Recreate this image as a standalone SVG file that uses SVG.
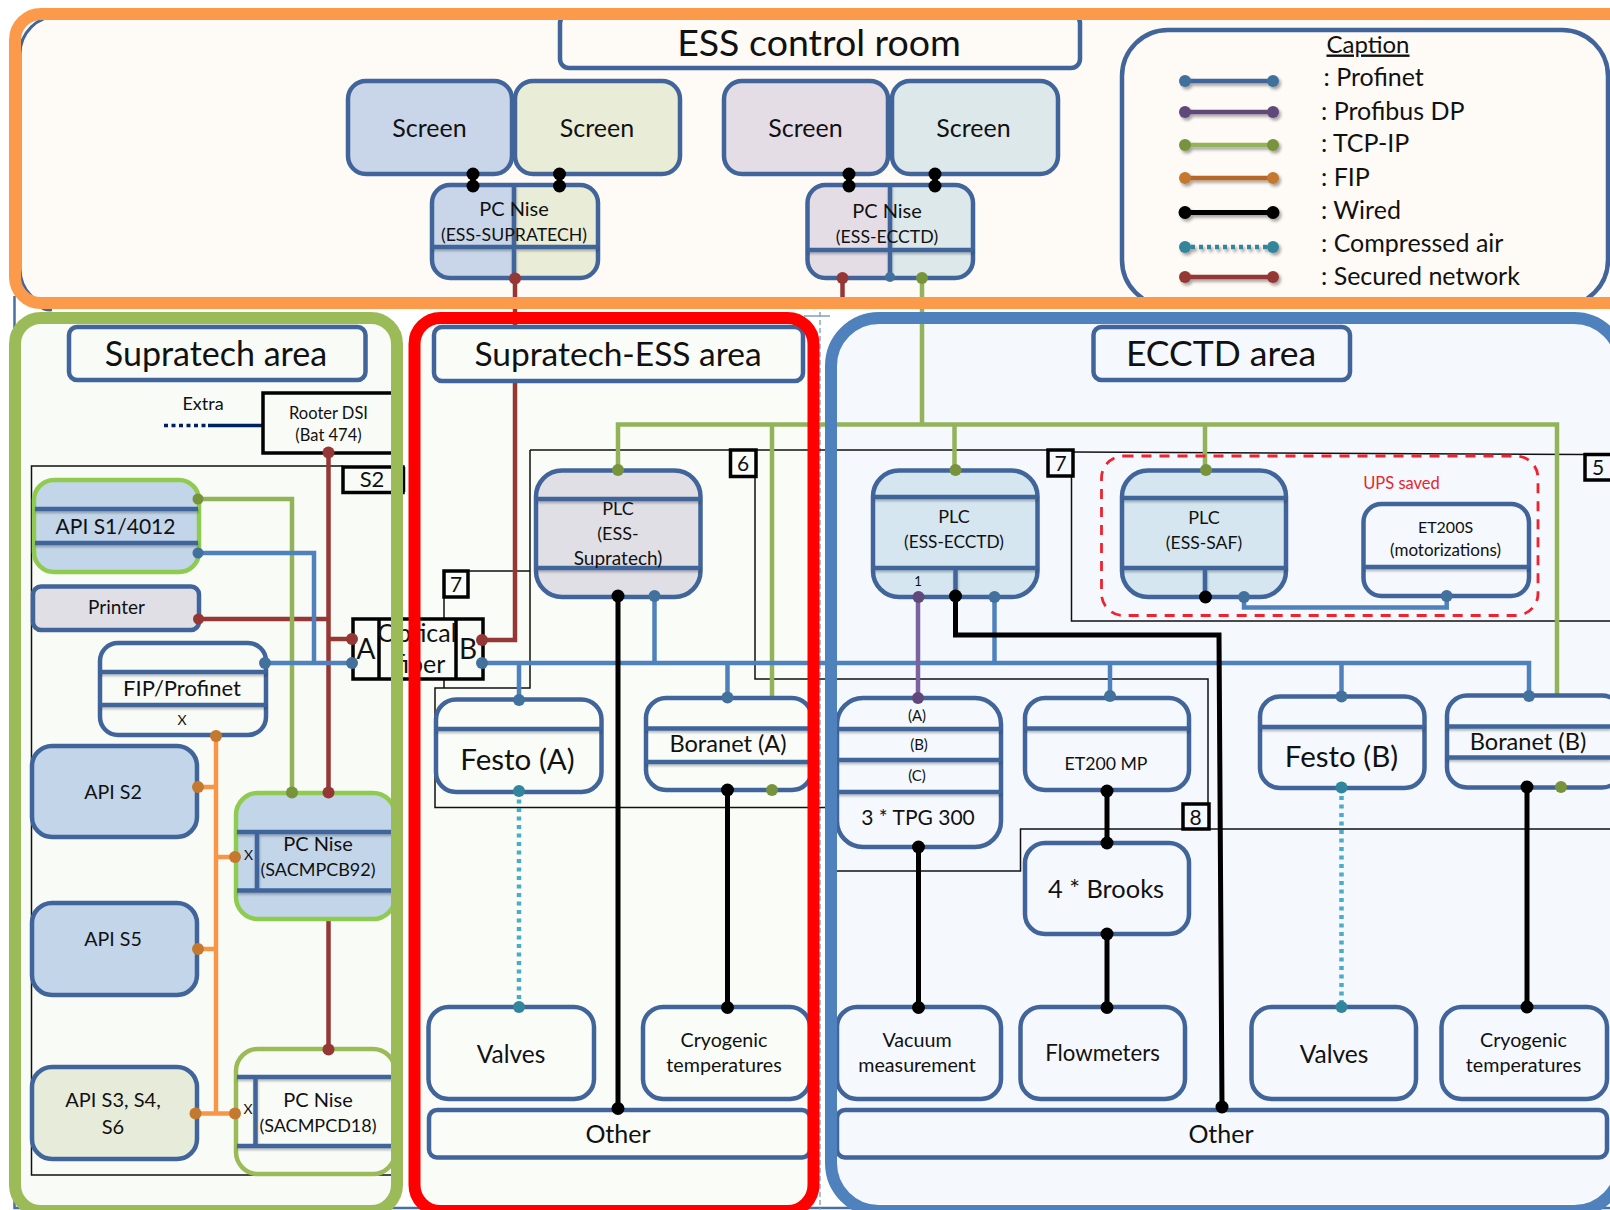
<svg xmlns="http://www.w3.org/2000/svg" width="1610" height="1210" viewBox="0 0 1610 1210">
<style>
text{font-family:Lato,"Liberation Sans",sans-serif;fill:#111;text-anchor:middle}
.n{fill:none;stroke:#41659a;stroke-width:4.5}
.bar{fill:none;stroke:#41659a;stroke-width:4.5;filter:url(#bs)}
.gb{stroke:#8fcb50;stroke-width:4.5}
.blk{fill:none;stroke:#000;stroke-width:3.5}
.thin{fill:none;stroke:#111;stroke-width:1.5}
.c{fill:none;stroke-width:4.5}
.pn{stroke:#4f81bd}.pb{stroke:#7c63a0}.tc{stroke:#92b35a}.fp{stroke:#f79646}.wd{stroke:#000;stroke-width:5}.ar{stroke:#4bacc6;stroke-dasharray:4 4.5}.sc{stroke:#953735}
.d-pn{fill:#41719c}.d-pb{fill:#5f497a}.d-tc{fill:#77933c}.d-fp{fill:#c5792e}.d-wd{fill:#000}.d-ar{fill:#31859c}.d-sc{fill:#953735}
circle,ellipse{stroke:none}
.f{fill:none;stroke-width:12}
</style>
<defs>
<filter id="sh" x="-20%" y="-200%" width="140%" height="500%"><feDropShadow dx="2" dy="2.5" stdDeviation="1.6" flood-color="#000" flood-opacity=".35"/></filter>
<filter id="bs" filterUnits="userSpaceOnUse" x="0" y="0" width="1610" height="1210"><feDropShadow dx="0.5" dy="2" stdDeviation="1.2" flood-color="#000" flood-opacity=".25"/></filter>
</defs>
<g id="backgrounds">
<rect x="0" y="0" width="1610" height="1210" fill="#fff"/>
<rect x="15" y="14" width="1640" height="289" rx="26" fill="#fefaf5"/>
<path d="M14.500 296V1208H1610" fill="none" stroke="#4a70a0" stroke-width="2.500"/>
<path d="M38 305Q44 311 52 310" fill="none" stroke="#41659a" stroke-width="2.500"/>
<path d="M804 316H830" fill="none" stroke="#7f9dc4" stroke-width="1.500"/>
<rect x="15" y="318" width="382" height="893" rx="26" fill="#f9fbf6"/>
<rect x="414.5" y="318" width="399" height="893" rx="26" fill="#fafcf7"/>
<rect x="831" y="318" width="791" height="886" rx="48" fill="#f5f8fc"/>
<rect x="20" y="16" width="1640" height="291" rx="38" fill="none" stroke="#41659a" stroke-width="3"/>
<line x1="820" y1="312" x2="820" y2="1210" stroke="#8aa6c8" stroke-width="1.5" stroke-dasharray="5 3"/>
</g>
<g id="thin-frames">
<path class="thin" d="M343 466H31.5V1175H400"/>
<path class="thin" d="M404.500 467V492"/>
<path class="thin" d="M530 450V688H435V807.500H840M468 571H530"/>
<path class="thin" d="M444 597V688"/>
<path class="thin" d="M530 450H1048"/>
<path class="thin" d="M755 476V679H1208V804"/>
<path class="thin" d="M1073 452L1585 454.500"/>
<path class="thin" d="M1071.500 476V621H1610"/>
<path class="thin" d="M837 871H1020.500V829H1610"/>
</g>
<g id="connectors">
<path class="c wd" d="M473 174V186M559.500 174V186M849 174V186M935 174V186"/>
<path class="c sc" d="M515 278V640H482"/>
<path class="c sc" d="M842.500 278V300"/>
<path class="c tc" d="M922 278V424.500M618 470V424.500H1557V694"/>
<path class="c tc" d="M772 424.500V790M954.500 424.500V470M1205 424.500V470"/>
<path class="c sc" d="M328.500 453V792M198.500 619H328.500M328.500 639H352"/>
<path class="c sc" d="M328.500 919V1049"/>
<path class="c tc" d="M198 499H292V792"/>
<path class="c pn" d="M198 553H314V663"/>
<path class="c pn" d="M265 663H352"/>
<path class="c pn" d="M482 663H1529V696"/>
<path class="c pn" d="M519 663V700M654.500 597V663M727.500 663V698M994.500 597V663M1110 663V696M1341.500 663V696"/>
<path class="c pn" d="M1244 597V607.500H1446.700V596"/>
<path class="c pb" d="M918 597V698"/>
<path class="c fp" d="M216 736V1113.500M198 787H216M198 949H216M216 857H235M195.500 1113.500H235"/>
<path class="c wd" d="M618 596V1108.500"/>
<path class="c wd" d="M727.500 790V1007.500"/>
<path class="c wd" d="M955.500 597V635H1219L1222 1107"/>
<path class="c wd" d="M918.500 847V1007.500"/>
<path class="c wd" d="M1107 791V843M1107 934V1007.500"/>
<path class="c wd" d="M1527 787V1007"/>
<path class="c ar" d="M519 791V1007"/>
<path class="c ar" d="M1341.500 787.500V1007"/>
<path d="M164 425.500H208" stroke="#002060" stroke-width="3.500" stroke-dasharray="4 3.500" fill="none"/>
<path d="M208 425.500H263" stroke="#002060" stroke-width="3.500" fill="none"/>
</g>
<g id="screen-1"><rect class="n" x="348" y="81" width="164" height="93" rx="18" style="fill:#c9d6e9"/><text x="429.500" y="137" font-size="25">Screen</text></g>
<g id="screen-2"><rect class="n" x="515" y="81" width="165" height="93" rx="18" style="fill:#e9ecd7"/><text x="597" y="137" font-size="25">Screen</text></g>
<g id="screen-3"><rect class="n" x="724" y="81" width="164" height="93" rx="18" style="fill:#e5dde6"/><text x="805.500" y="137" font-size="25">Screen</text></g>
<g id="screen-4"><rect class="n" x="892" y="81" width="166" height="93" rx="18" style="fill:#dce8e9"/><text x="973.500" y="137" font-size="25">Screen</text></g>
<g id="title-control"><rect class="n" x="560" y="14" width="520" height="54" rx="9" style="fill:#fefaf5"/><text x="819" y="56" font-size="37.500">ESS control room</text></g>
<g id="pc-ess-supratech">
<path d="M514 185H450a18 18 0 0 0-18 18V260a18 18 0 0 0 18 18H514Z" fill="#c9d6e9"/>
<path d="M514 185H580a18 18 0 0 1 18 18V260a18 18 0 0 1-18 18H514Z" fill="#e9ecd7"/>
<rect class="n" x="432" y="185" width="166" height="93" rx="18"/>
<path class="bar" d="M432 247H598M514 185V278"/>
<text x="514" y="216" font-size="20">PC Nise</text><text x="514" y="241" font-size="17.700">(ESS-SUPRATECH)</text></g>
<g id="pc-ess-ecctd">
<path d="M890 185H825a18 18 0 0 0-18 18V260a18 18 0 0 0 18 18H890Z" fill="#e5dde6"/>
<path d="M890 185H955a18 18 0 0 1 18 18V260a18 18 0 0 1-18 18H890Z" fill="#dce8e9"/>
<rect class="n" x="807.500" y="185" width="165.500" height="93" rx="18"/>
<path class="bar" d="M807.500 250H973M890 185V278"/>
<text x="887" y="218" font-size="20">PC Nise</text><text x="887" y="243" font-size="17.700">(ESS-ECCTD)</text></g>
<g id="caption">
<rect class="n" x="1122" y="30" width="486" height="276" rx="46"/>
<text x="1368" y="52.500" font-size="24" text-decoration="underline">Caption</text>
<g filter="url(#sh)">
<path class="c" style="stroke:#41659a" d="M1185 81H1273"/>
<path class="c" style="stroke:#5f497a" d="M1185 112H1273"/>
<path class="c tc" d="M1185 145H1273"/>
<path class="c" style="stroke:#b7662a" d="M1185 178H1273"/>
<path class="c wd" d="M1185 212.500H1273"/>
<path class="c" style="stroke:#31859c;stroke-dasharray:4 4" d="M1191 247H1267"/>
<path class="c sc" d="M1185 277H1273"/>
<circle class="d-pn" cx="1185" cy="81" r="6"/><circle class="d-pn" cx="1273" cy="81" r="6"/>
<circle class="d-pb" cx="1185" cy="112" r="6"/><circle class="d-pb" cx="1273" cy="112" r="6"/>
<circle class="d-tc" cx="1185" cy="145" r="6"/><circle class="d-tc" cx="1273" cy="145" r="6"/>
<circle class="d-fp" cx="1185" cy="178" r="6"/><circle class="d-fp" cx="1273" cy="178" r="6"/>
<circle class="d-wd" cx="1185" cy="212.500" r="6.500"/><circle class="d-wd" cx="1273" cy="212.500" r="6.500"/>
<circle class="d-ar" cx="1185" cy="247" r="6"/><circle class="d-ar" cx="1273" cy="247" r="6"/>
<circle class="d-sc" cx="1185" cy="277" r="6"/><circle class="d-sc" cx="1273" cy="277" r="6"/>
</g>
<g font-size="25">
<text style="text-anchor:start" x="1323.500" y="86">: Profinet</text>
<text style="text-anchor:start" x="1321" y="119.500">: Profibus DP</text>
<text style="text-anchor:start" x="1321" y="152">: TCP-IP</text>
<text style="text-anchor:start" x="1321" y="186">: FIP</text>
<text style="text-anchor:start" x="1321" y="219">: Wired</text>
<text style="text-anchor:start" x="1321" y="251.500">: Compressed air</text>
<text style="text-anchor:start" x="1321" y="285">: Secured network</text>
</g></g>
<g id="title-supratech"><rect class="n" x="69" y="327" width="296.500" height="53" rx="8" style="fill:#f9fbf6"/><text x="216" y="366" font-size="34">Supratech area</text></g>
<g id="title-supratech-ess"><rect class="n" x="434" y="327" width="369" height="54" rx="8" style="fill:#fafcf7"/><text x="618" y="366" font-size="33.500">Supratech-ESS area</text></g>
<g id="title-ecctd"><rect class="n" x="1093.500" y="327" width="256.500" height="53" rx="8" style="fill:#f5f8fc"/><text x="1221" y="366" font-size="35.500">ECCTD area</text></g>
<g id="rooter"><rect class="blk" x="263" y="393" width="135" height="60"/><text x="328.500" y="418.500" font-size="16.500">Rooter DSI</text><text x="328.500" y="441" font-size="16.500">(Bat 474)</text></g>
<g id="extra"><text x="203" y="410" font-size="18">Extra</text></g>
<g id="s2"><rect class="blk" x="343" y="467" width="60" height="25.500" style="fill:#f9fbf6"/><text x="372" y="487" font-size="22">S2</text></g>
<g id="api-s1"><rect class="n gb" x="34" y="480" width="165" height="92" rx="20" style="fill:#c2d5e9"/><path class="bar" d="M35 509H198M35 543H198"/><text x="115.500" y="534" font-size="21">API S1/4012</text></g>
<g id="printer"><rect class="n" x="33" y="586.500" width="166" height="43.500" rx="8" style="fill:#e1dfe6"/><text x="116.500" y="614" font-size="19">Printer</text></g>
<g id="fip-profinet"><rect class="n" x="100" y="643" width="166" height="92" rx="18" style="fill:#f9fbf6"/><path class="bar" d="M100 672H266M100 705H266"/><text x="182" y="696" font-size="22">FIP/Profinet</text><text x="182" y="725" font-size="14">X</text></g>
<g id="api-s2"><rect class="n" x="32" y="746" width="165" height="91" rx="20" style="fill:#c2d5e9"/><text x="113" y="798.500" font-size="19.600">API S2</text></g>
<g id="api-s5"><rect class="n" x="32" y="903" width="165" height="92" rx="20" style="fill:#c2d5e9"/><text x="113" y="945.500" font-size="19.600">API S5</text></g>
<g id="api-s3"><rect class="n" x="32" y="1067" width="165" height="92" rx="20" style="fill:#e6ecd9"/><text x="113" y="1107" font-size="20">API S3, S4,</text><text x="113" y="1134" font-size="20">S6</text></g>
<g id="pc-sacmpcb92"><rect class="n gb" x="236" y="793" width="159" height="126" rx="22" style="fill:#c2d5e9"/><path class="bar" d="M237 832H393M237 890.500H393M257 832V890.500"/><text x="318" y="851" font-size="20">PC Nise</text><text x="318" y="876" font-size="18">(SACMPCB92)</text><text x="248.500" y="860" font-size="14">X</text></g>
<g id="pc-sacmpcd18"><rect class="n" x="236" y="1049" width="159" height="125" rx="22" style="stroke:#9bbb59;fill:#f9fbf6"/><path class="bar" d="M237 1077H393M237 1146H393M255.500 1077V1146"/><text x="318" y="1106.500" font-size="20">PC Nise</text><text x="318" y="1132" font-size="18">(SACMPCD18)</text><text x="248" y="1114" font-size="14">X</text></g>
<g id="optical-fiber"><rect class="blk" x="353" y="619" width="130" height="60" style="fill:#f9fbf6"/><path class="blk" d="M379 619V679M456 619V679"/><text x="366" y="659" font-size="28">A</text><text x="468" y="659" font-size="28">B</text><text x="417" y="642" font-size="25">Optical</text><text x="420" y="672.500" font-size="25">fiber</text></g>
<g id="box-7a"><rect class="blk" x="444" y="571" width="24" height="26" style="fill:#fafcf7"/><text x="456" y="592" font-size="21">7</text></g>
<g id="box-6"><rect class="blk" x="730.500" y="450" width="25.500" height="26.500" style="fill:#fafcf7"/><text x="743" y="471" font-size="21">6</text></g>
<g id="box-7b"><rect class="blk" x="1048" y="450" width="25" height="26" style="fill:#f5f8fc"/><text x="1060.500" y="471" font-size="21">7</text></g>
<g id="box-5"><rect class="blk" x="1585" y="454.500" width="35" height="25.500" style="fill:#f5f8fc"/><text x="1598" y="475" font-size="21">5</text></g>
<g id="box-8"><rect class="blk" x="1183" y="804" width="26" height="25" style="fill:#f5f8fc"/><text x="1195.500" y="824.500" font-size="21">8</text></g>
<g id="plc-supratech"><rect class="n" x="536" y="470.500" width="164.500" height="126.500" rx="26" style="fill:#e1dfe6"/><path class="bar" d="M537 499H700M537 568H700"/><text x="618" y="515" font-size="18">PLC</text><text x="618" y="540" font-size="18">(ESS-</text><text x="618" y="565" font-size="19">Supratech)</text></g>
<g id="festo-a"><rect class="n" x="436" y="699.500" width="165.500" height="92.500" rx="20" style="fill:#fafcf7"/><path class="bar" d="M436 729H601"/><text x="517.500" y="769.500" font-size="29.500">Festo (A)</text></g>
<g id="boranet-a"><rect class="n" x="646" y="698" width="166" height="92" rx="20" style="fill:#fafcf7"/><path class="bar" d="M646 728.500H810M646 762H810"/><text x="728" y="751.500" font-size="23.600">Boranet (A)</text></g>
<g id="valves-a"><rect class="n" x="428.500" y="1007" width="165.500" height="92" rx="20" style="fill:#fafcf7"/><text x="511" y="1062.500" font-size="24.500">Valves</text></g>
<g id="cryo-a"><rect class="n" x="643" y="1007" width="167" height="92" rx="20" style="fill:#fafcf7"/><text x="724" y="1047" font-size="19.700">Cryogenic</text><text x="724" y="1072" font-size="19.700">temperatures</text></g>
<g id="other-a"><rect class="n" x="429" y="1110" width="381" height="47.500" rx="8" style="fill:#fafcf7"/><text x="618" y="1142.500" font-size="25">Other</text></g>
<g id="plc-ecctd"><rect class="n" x="873" y="470.500" width="164.500" height="126.500" rx="26" style="fill:#d5e6f0"/><path class="bar" d="M874 497H1037M874 568H1037M955.500 568V597"/><text x="954" y="523" font-size="18">PLC</text><text x="954" y="548" font-size="17.300">(ESS-ECCTD)</text><text x="918" y="586" font-size="13">1</text></g>
<g id="plc-saf"><rect class="n" x="1122" y="470.500" width="164" height="126.500" rx="26" style="fill:#d5e6f0"/><path class="bar" d="M1123 498H1286M1123 568H1286M1205 568V597"/><text x="1204" y="524" font-size="18">PLC</text><text x="1204" y="548.500" font-size="17.600">(ESS-SAF)</text></g>
<g id="et200s"><rect class="n" x="1363.500" y="504" width="165.500" height="92" rx="18" style="fill:#f5f8fc"/><path class="bar" d="M1364 567H1529"/><text x="1445.500" y="533" font-size="16">ET200S</text><text x="1445.500" y="555.500" font-size="17">(motorizations)</text></g>
<g id="ups"><rect x="1101.500" y="456" width="436.500" height="159.500" rx="22" fill="none" stroke="#f0222e" stroke-width="2.800" stroke-dasharray="10 8"/><text x="1401.500" y="488.500" font-size="16.500" style="fill:#e8252f">UPS saved</text></g>
<g id="tpg"><rect class="n" x="837" y="698" width="164" height="149" rx="26" style="fill:#f5f8fc"/><path class="bar" d="M838 729H1001M838 760H1001M838 792H1001"/><text x="917" y="721" font-size="15">(A)</text><text x="919" y="750" font-size="15">(B)</text><text x="917" y="780.500" font-size="15">(C)</text><text x="918" y="824.500" font-size="21">3 * TPG 300</text></g>
<g id="et200mp"><rect class="n" x="1025" y="698" width="164" height="92" rx="20" style="fill:#f5f8fc"/><path class="bar" d="M1025 728.500H1189"/><text x="1106" y="770" font-size="17.700">ET200 MP</text></g>
<g id="brooks"><rect class="n" x="1025" y="843" width="164" height="91" rx="20" style="fill:#f5f8fc"/><text x="1106" y="898" font-size="25.400">4 * Brooks</text></g>
<g id="flowmeters"><rect class="n" x="1020.500" y="1007" width="164.500" height="92" rx="20" style="fill:#f5f8fc"/><text x="1102.500" y="1060.500" font-size="22.200">Flowmeters</text></g>
<g id="vacuum"><rect class="n" x="837" y="1007" width="164" height="92" rx="20" style="fill:#f5f8fc"/><text x="917" y="1047" font-size="19.700">Vacuum</text><text x="917" y="1072" font-size="19.700">measurement</text></g>
<g id="festo-b"><rect class="n" x="1260" y="696.500" width="164.500" height="91.500" rx="20" style="fill:#f5f8fc"/><path class="bar" d="M1260 727H1424"/><text x="1341.500" y="767" font-size="29.500">Festo (B)</text></g>
<g id="boranet-b"><rect class="n" x="1447" y="695.500" width="175" height="92" rx="20" style="fill:#f5f8fc"/><path class="bar" d="M1447 726.500H1610M1447 757.500H1610"/><text x="1528" y="750" font-size="23.600">Boranet (B)</text></g>
<g id="valves-b"><rect class="n" x="1251.500" y="1007" width="164.500" height="92" rx="20" style="fill:#f5f8fc"/><text x="1334" y="1062.500" font-size="24.500">Valves</text></g>
<g id="cryo-b"><rect class="n" x="1441.500" y="1007" width="165.500" height="92" rx="20" style="fill:#f5f8fc"/><text x="1523.500" y="1047" font-size="19.700">Cryogenic</text><text x="1523.500" y="1072" font-size="19.700">temperatures</text></g>
<g id="other-b"><rect class="n" x="837" y="1110" width="770" height="47.500" rx="8" style="fill:#f5f8fc"/><text x="1221" y="1142.500" font-size="25">Other</text></g>
<g id="ports">
<circle class="d-wd" cx="473" cy="174" r="6.500"/><circle class="d-wd" cx="473" cy="186" r="6.500"/><circle class="d-wd" cx="559.500" cy="174" r="6.500"/><circle class="d-wd" cx="559.500" cy="186" r="6.500"/>
<circle class="d-wd" cx="849" cy="174" r="6.500"/><circle class="d-wd" cx="849" cy="186" r="6.500"/><circle class="d-wd" cx="935" cy="174" r="6.500"/><circle class="d-wd" cx="935" cy="186" r="6.500"/>
<circle class="d-sc" cx="515" cy="278.500" r="6"/><circle class="d-sc" cx="842.500" cy="278" r="6"/><circle class="d-tc" cx="922" cy="278" r="6"/><circle class="d-pn" cx="890" cy="277" r="5"/>
<circle class="d-sc" cx="328.500" cy="452.500" r="6"/>
<circle class="d-tc" cx="198" cy="499" r="5.500"/><circle class="d-pn" cx="198" cy="553" r="5.500"/><circle class="d-sc" cx="198.500" cy="619" r="5.500"/>
<circle class="d-sc" cx="352" cy="639" r="6"/><circle class="d-pn" cx="352" cy="663" r="6"/><circle class="d-pn" cx="265" cy="663" r="6"/><circle class="d-sc" cx="482" cy="640" r="6"/><circle class="d-pn" cx="482" cy="663" r="6"/>
<circle class="d-fp" cx="216" cy="736" r="6"/><circle class="d-fp" cx="198" cy="787" r="6"/><circle class="d-fp" cx="198" cy="949" r="6"/><circle class="d-fp" cx="195.500" cy="1113.500" r="6"/><circle class="d-fp" cx="235" cy="857" r="6"/><circle class="d-fp" cx="235" cy="1113.500" r="6"/>
<circle class="d-tc" cx="292" cy="792.500" r="6"/><circle class="d-sc" cx="328.500" cy="792.500" r="6"/><circle class="d-sc" cx="328.500" cy="1049.500" r="6"/>
<circle class="d-tc" cx="618" cy="470" r="6"/><circle class="d-wd" cx="618" cy="596" r="6.500"/><circle class="d-pn" cx="654.500" cy="596" r="6"/>
<circle class="d-pn" cx="519" cy="700" r="6"/><circle class="d-ar" cx="519" cy="791" r="6"/><circle class="d-ar" cx="519" cy="1007" r="6"/>
<circle class="d-pn" cx="727.500" cy="697.500" r="6"/><circle class="d-wd" cx="727.500" cy="790" r="6.500"/><circle class="d-tc" cx="772" cy="790" r="6"/><circle class="d-wd" cx="727.500" cy="1007.500" r="6.500"/><circle class="d-wd" cx="618" cy="1108.500" r="6.500"/>
<circle class="d-tc" cx="955.500" cy="470" r="6"/><circle class="d-pb" cx="918.500" cy="597" r="6"/><circle class="d-wd" cx="955.500" cy="596" r="6.500"/><circle class="d-pn" cx="994.500" cy="597" r="6"/>
<circle class="d-tc" cx="1206" cy="470" r="6"/><circle class="d-wd" cx="1205.500" cy="597" r="6.500"/><circle class="d-pn" cx="1244" cy="597" r="6"/><circle class="d-pn" cx="1446.700" cy="596" r="6"/>
<circle class="d-pb" cx="918" cy="698" r="6"/><circle class="d-wd" cx="918.500" cy="847" r="6.500"/><circle class="d-wd" cx="918.500" cy="1007.500" r="6.500"/>
<circle class="d-pn" cx="1110" cy="696" r="6"/><circle class="d-wd" cx="1107" cy="791" r="6.500"/><circle class="d-wd" cx="1107" cy="843" r="6.500"/><circle class="d-wd" cx="1107" cy="934" r="6.500"/><circle class="d-wd" cx="1107" cy="1007.500" r="6.500"/>
<circle class="d-pn" cx="1341.500" cy="696.500" r="6"/><circle class="d-ar" cx="1341.500" cy="787.500" r="6"/><circle class="d-ar" cx="1341.500" cy="1007" r="6"/>
<circle class="d-pn" cx="1529" cy="696" r="6"/><circle class="d-wd" cx="1527" cy="787" r="6.500"/><circle class="d-tc" cx="1561" cy="787" r="6"/><circle class="d-wd" cx="1527" cy="1007" r="6.500"/><circle class="d-wd" cx="1222" cy="1107" r="6.500"/>
</g>
<g id="frames">
<rect class="f" x="15" y="14" width="1640" height="289" rx="26" stroke="#fa9a4a"/>
<rect class="f" x="15" y="318" width="382" height="893" rx="26" stroke="#9bbb59"/>
<rect class="f" x="414.500" y="318" width="399" height="893" rx="26" stroke="#ff0000"/>
<rect class="f" x="831" y="318" width="791" height="893" rx="48" stroke="#4f81bd"/>
</g>
</svg>
